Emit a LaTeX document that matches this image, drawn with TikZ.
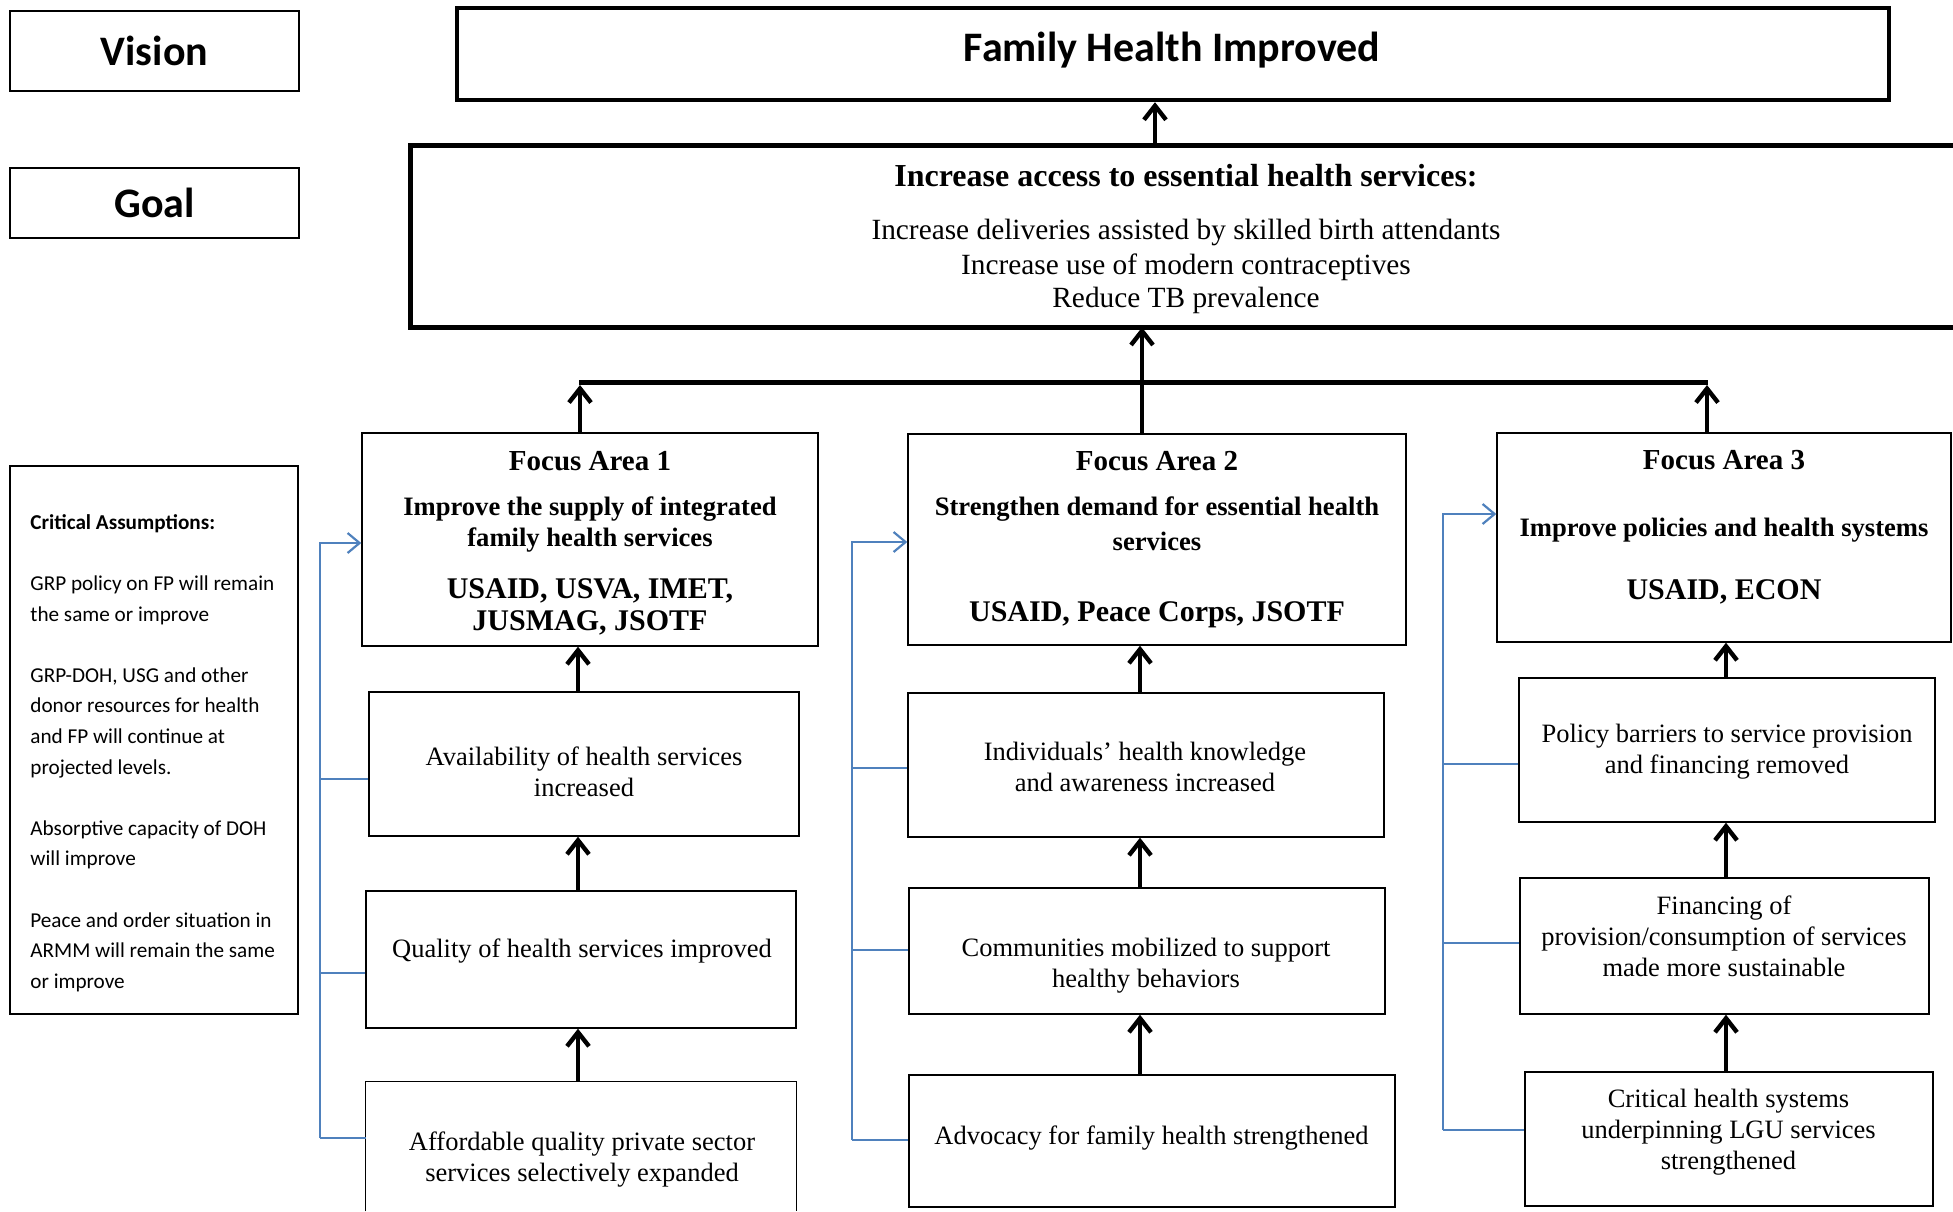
\documentclass[tikz,border=0pt]{standalone}
\usepackage{fontspec}
\setmainfont{Liberation Serif}
\newfontfamily\calib{Carlito}
\usetikzlibrary{fit,arrows.meta}
\definecolor{linkblue}{RGB}{79,129,189}
\begin{document}
\begin{tikzpicture}[x=0.5pt,y=-0.5pt,
  thinbox/.style={draw=black, line width=0.7pt, inner sep=0pt},
  openbox/.style={inner sep=0pt},
  thickbox/.style={draw=black, line width=2.2pt, inner sep=0pt},
  lbl/.style={thinbox, minimum width=144.5pt, font=\calib\bfseries\fontsize{21}{25}\selectfont},
  bodytxt/.style={font=\fontsize{13.25}{15.5}\selectfont, align=center, inner sep=0pt},
  fatxt/.style={font=\bfseries\fontsize{13.3}{16}\selectfont, align=center, inner sep=0pt},
  arr/.style={line width=2.2pt, -{Straight Barb[length=7pt,width=11pt]}},
  bl/.style={draw=linkblue, line width=1.1pt},
  blarr/.style={bl, -{Straight Barb[length=6pt,width=10pt]}}]
\useasboundingbox (0,0) rectangle (1953,1211);

% left labels
\node[lbl, minimum height=40pt] (vision) at (154.5,51) {Vision};
\node[lbl, minimum height=35pt] (goal) at (154.5,203) {Goal};

% vision box
\node[thickbox, fit={(457,8) (1889,100)}] (fhi) {};
\node[font=\calib\bfseries\fontsize{21}{25}\selectfont, inner sep=0pt] (fhitxt) at (1172,50.5) {Family Health Improved};

% goal box (right side runs off the page)
\node[openbox, fit={(411,146) (1953,327)}] (goalbox) {};
\draw[line width=2.2pt] (goalbox.north east) -- (goalbox.north west) -- (goalbox.south west) -- (goalbox.south east);
\node[font=\fontsize{14.67}{17}\selectfont, align=center, inner sep=0pt] (goaltxt) at (1186,239.5)
 {{\bfseries\fontsize{16}{17}\selectfont Increase access to essential health services:}\\[9.5pt]
  Increase deliveries assisted by skilled birth attendants\\[0.5pt]
  Increase use of modern contraceptives\\[-0.5pt]
  Reduce TB prevalence};

% critical assumptions
\node[thinbox, fit={(10,466) (298,1014)}] (crit) {};
\node[anchor=north west, inner sep=0pt, align=left, font=\calib\fontsize{10.6}{15.3}\selectfont] (crittxt) at (30,514)
 {\textbf{Critical Assumptions:}\\[15.3pt]
  GRP policy on FP will remain\\ the same or improve\\[15.3pt]
  GRP-DOH, USG and other\\ donor resources for health\\ and FP will continue at\\ projected levels.\\[15.3pt]
  Absorptive capacity of DOH\\ will improve\\[15.3pt]
  Peace and order situation in\\ ARMM will remain the same\\ or improve};

% focus areas
\node[thinbox, fit={(362,433) (818,646)}] (fa1) {};
\node[fatxt] (fa1t) at (590,543)
 {{\fontsize{14.5}{16}\selectfont Focus Area 1}\\[6.5pt]
  Improve the supply of integrated\\[-0.5pt]
  family health services\\[10pt]
  {\fontsize{15}{16}\selectfont USAID, USVA, IMET,}\\
  {\fontsize{15}{16}\selectfont JUSMAG, JSOTF}};

\node[thinbox, fit={(908,434) (1406,645)}] (fa2) {};
\node[fatxt] (fa2t) at (1157,540)
 {{\fontsize{14.5}{16}\selectfont Focus Area 2}\\[6.5pt]
  Strengthen demand for essential health\\[1.5pt]
  services\\[19.5pt]
  {\fontsize{15}{16}\selectfont USAID, Peace Corps, JSOTF}};

\node[thinbox, fit={(1497,433) (1951,642)}] (fa3) {};
\node[fatxt] (fa3t) at (1724,527)
 {{\fontsize{14.5}{16}\selectfont Focus Area 3}\\[17.5pt]
  Improve policies and health systems\\[15.5pt]
  {\fontsize{15}{16}\selectfont USAID, ECON}};

% column 1 results
\node[thinbox, fit={(369,692) (799,836)}] (avail) {};
\node[bodytxt] (availt) at (584,772) {Availability of health services\\ increased};
\node[thinbox, fit={(366,891) (796,1028)}] (quality) {};
\node[bodytxt] (qualityt) at (582,951) {Quality of health services improved};
\node[openbox, fit={(366,1082) (796,1211)}] (aff) {};
\draw[line width=0.7pt] (aff.south west) -- (aff.north west) -- (aff.north east) -- (aff.south east);
\node[bodytxt] (afft) at (582,1159.5) {Affordable quality private sector\\ services selectively expanded};

% column 2 results
\node[thinbox, fit={(908,693) (1384,837)}] (indiv) {};
\node[bodytxt] (indivt) at (1145,766.5) {Individuals’ health knowledge\\ and awareness increased};
\node[thinbox, fit={(909,888) (1385,1014)}] (comm) {};
\node[bodytxt] (commt) at (1146,966) {Communities mobilized to support\\ healthy behaviors};
\node[thinbox, fit={(909,1075) (1395,1207)}] (advo) {};
\node[bodytxt] (advot) at (1151.5,1138) {Advocacy for family health strengthened};

% column 3 results
\node[thinbox, fit={(1519,678) (1935,822)}] (policy) {};
\node[bodytxt] (policyt) at (1727,752) {Policy barriers to service provision\\ and financing removed};
\node[thinbox, fit={(1520,878) (1929,1014)}] (fin) {};
\node[bodytxt] (fint) at (1724,936) {Financing of\\ provision/consumption of services\\ made more sustainable};
\node[thinbox, fit={(1525,1072) (1933,1206)}] (chs) {};
\node[bodytxt] (chst) at (1728.5,1132) {Critical health systems\\ underpinning LGU services\\ strengthened};

% helper coordinates
\coordinate (c1) at (578,0);
\coordinate (c2) at (1140,0);
\coordinate (c3) at (1726,0);
\coordinate (mid) at (1142,0);
\coordinate (top) at (1155,0);
\coordinate (barL) at (579,382);
\coordinate (barR) at (1708,382);
\coordinate (tipL) at (580,385);
\coordinate (tipR) at (1707,385);

% black arrows
\draw[arr] (avail.north -| c1) -- (fa1.south -| c1);
\draw[arr] (quality.north -| c1) -- (avail.south -| c1);
\draw[arr] (aff.north -| c1) -- (quality.south -| c1);
\draw[arr] (indiv.north -| c2) -- (fa2.south -| c2);
\draw[arr] (comm.north -| c2) -- (indiv.south -| c2);
\draw[arr] (advo.north -| c2) -- (comm.south -| c2);
\draw[arr] (policy.north -| c3) -- (fa3.south -| c3);
\draw[arr] (fin.north -| c3) -- (policy.south -| c3);
\draw[arr] (chs.north -| c3) -- (fin.south -| c3);

\draw[line width=2.5pt] (barL) -- (barR);
\draw[arr] (fa1.north -| tipL) -- (tipL);
\draw[arr] (fa3.north -| tipR) -- (tipR);
\draw[arr] (fa2.north -| mid) -- (goalbox.south -| mid);
\draw[arr] (goalbox.north -| top) -- (fhi.south -| top);

% blue assumption connectors
\coordinate (v1t) at (320,543);  \coordinate (v1b) at (320,1138);
\coordinate (v1a) at (320,779);  \coordinate (v1q) at (320,973);
\draw[blarr] (v1b) -- (v1t) -- (fa1.west |- v1t);
\draw[bl] (v1a) -- (avail.west |- v1a);
\draw[bl] (v1q) -- (quality.west |- v1q);
\draw[bl] (v1b) -- (aff.west |- v1b);

\coordinate (v2t) at (852,542);  \coordinate (v2b) at (852,1140);
\coordinate (v2a) at (852,768);  \coordinate (v2q) at (852,950);
\draw[blarr] (v2b) -- (v2t) -- (fa2.west |- v2t);
\draw[bl] (v2a) -- (indiv.west |- v2a);
\draw[bl] (v2q) -- (comm.west |- v2q);
\draw[bl] (v2b) -- (advo.west |- v2b);

\coordinate (v3t) at (1443,514); \coordinate (v3b) at (1443,1130);
\coordinate (v3a) at (1443,764); \coordinate (v3q) at (1443,943);
\draw[blarr] (v3b) -- (v3t) -- (fa3.west |- v3t);
\draw[bl] (v3a) -- (policy.west |- v3a);
\draw[bl] (v3q) -- (fin.west |- v3q);
\draw[bl] (v3b) -- (chs.west |- v3b);
\end{tikzpicture}
\end{document}
